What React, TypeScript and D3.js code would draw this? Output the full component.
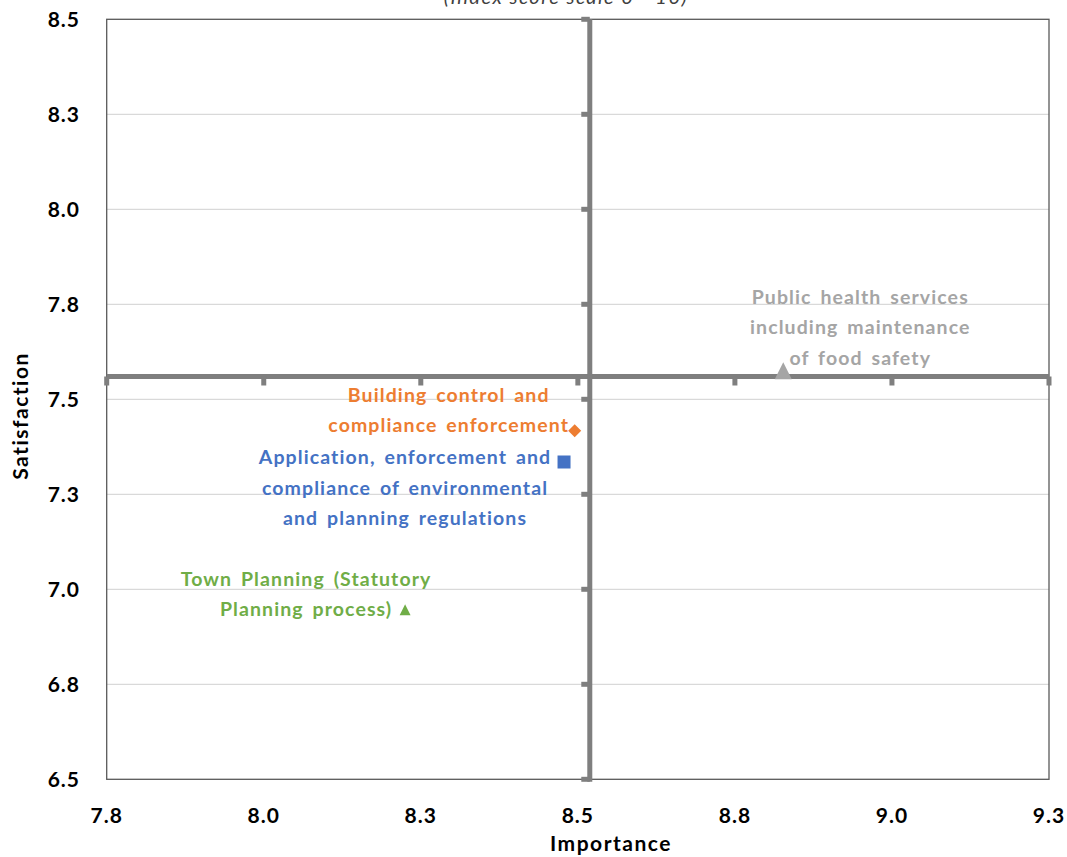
import React from "react";
import * as d3 from "d3";

const services = [
  "Public health services including maintenance of food safety",
  "Building control and compliance enforcement",
  "Application, enforcement and compliance of environmental and planning regulations",
  "Town Planning (Statutory Planning process)",
];
const importance = [8.827, 8.495, 8.478, 8.225];
const satisfaction = [7.575, 7.417, 7.335, 6.946];
const labelLines = [
  ["Public health services", "including maintenance", "of food safety"],
  ["Building control and", "compliance enforcement"],
  ["Application, enforcement and", "compliance of environmental", "and planning regulations"],
  ["Town Planning (Statutory", "Planning process)"],
];
const colors = ["#A5A5A5", "#ED7D31", "#4472C4", "#70AD47"];
const markerShapes = ["triangle", "diamond", "square", "triangle"];
const markerSizes = [17, 13, 13, 11];
// label anchor offsets relative to point (center x offset, first-line y offset)
const labelOffsets: [number, number][] = [
  [77, -74],
  [-126, -36],
  [-159, -5],
  [-99, -31],
];

const xTicks = [7.75, 8.0, 8.25, 8.5, 8.75, 9.0, 9.25];
const xTickLabels = ["7.8", "8.0", "8.3", "8.5", "8.8", "9.0", "9.3"];
const yTicks = [6.5, 6.75, 7.0, 7.25, 7.5, 7.75, 8.0, 8.25, 8.5];
const yTickLabels = ["6.5", "6.8", "7.0", "7.3", "7.5", "7.8", "8.0", "8.3", "8.5"];
const xCross = 8.519; // vertical axis position (importance)
const yCross = 7.56; // horizontal axis position (satisfaction)

const W = 1067;
const H = 857;
const plot = { left: 106.7, right: 1049, top: 19.3, bottom: 779.3 };
const FONT = "Lato, 'Open Sans', sans-serif";

function Marker({ shape, size, color, x, y }: any) {
  if (shape === "square") {
    return <rect x={x - size / 2} y={y - size / 2} width={size} height={size} fill={color} />;
  }
  if (shape === "diamond") {
    const s = size / 2;
    return <path d={`M${x},${y - s}L${x + s},${y}L${x},${y + s}L${x - s},${y}Z`} fill={color} />;
  }
  const h = size;
  const w = size;
  return (
    <path
      d={`M${x},${y - h / 2}L${x + w / 2},${y + h / 2}L${x - w / 2},${y + h / 2}Z`}
      fill={color}
    />
  );
}

export default function App() {
  const x = d3.scaleLinear().domain([7.75, 9.25]).range([plot.left, plot.right]);
  const y = d3.scaleLinear().domain([6.5, 8.5]).range([plot.bottom, plot.top]);
  const cx = x(xCross);
  const cy = y(yCross);
  const axisColor = "#7F7F7F";

  return (
    <svg
      width={W}
      height={H}
      style={{ position: "absolute", left: 0, top: 0, background: "#fff" }}
      fontFamily={FONT}
    >
      {/* title (partly cut, as in the source) */}
      <text x={566} y={4} textAnchor="middle" fontStyle="italic" fontSize={20} letterSpacing={1.5} fill="#404040">
        (Index score scale 0 - 10)
      </text>

      {/* gridlines */}
      {yTicks.slice(1, -1).map((t) => (
        <line key={t} x1={plot.left} x2={plot.right} y1={y(t)} y2={y(t)} stroke="#D9D9D9" strokeWidth={1.2} />
      ))}

      {/* plot border */}
      <rect
        x={plot.left}
        y={plot.top}
        width={plot.right - plot.left}
        height={plot.bottom - plot.top}
        fill="none"
        stroke="#595959"
        strokeWidth={1.3}
      />

      {/* horizontal axis (crossing) */}
      <line x1={plot.left} x2={plot.right} y1={cy} y2={cy} stroke={axisColor} strokeWidth={5} />
      {xTicks.map((t) => (
        <line key={t} x1={x(t)} x2={x(t)} y1={cy} y2={cy + 9} stroke={axisColor} strokeWidth={5} />
      ))}
      {/* vertical axis (crossing) */}
      <line x1={cx} x2={cx} y1={plot.top} y2={plot.bottom + 2.5} stroke={axisColor} strokeWidth={5} />
      {yTicks.map((t) => (
        <line key={t} x1={cx - 8.5} x2={cx} y1={y(t)} y2={y(t)} stroke={axisColor} strokeWidth={5} />
      ))}

      {/* tick labels */}
      {yTicks.map((t, i) => (
        <text key={t} x={80} y={y(t)} dy="0.36em" textAnchor="end" fontWeight="bold" fontSize={21} letterSpacing={1} fill="#000">
          {yTickLabels[i]}
        </text>
      ))}
      {xTicks.map((t, i) => (
        <text key={t} x={x(t)} y={823} textAnchor="middle" fontWeight="bold" fontSize={21} letterSpacing={1} fill="#000">
          {xTickLabels[i]}
        </text>
      ))}

      {/* axis titles */}
      <text x={611} y={851} textAnchor="middle" fontWeight="bold" fontSize={21} letterSpacing={1.5} fill="#000">
        Importance
      </text>
      <text
        transform={`translate(28,416) rotate(-90)`}
        textAnchor="middle"
        fontWeight="bold"
        fontSize={21}
        letterSpacing={1.5}
        fill="#000"
      >
        Satisfaction
      </text>

      {/* points and labels */}
      {services.map((s, i) => {
        const px = x(importance[i]);
        const py = y(satisfaction[i]);
        const [ox, oy] = labelOffsets[i];
        return (
          <g key={s}>
            <Marker shape={markerShapes[i]} size={markerSizes[i]} color={colors[i]} x={px} y={py} />
            {labelLines[i].map((line, j) => (
              <text
                key={j}
                x={px + ox}
                y={py + oy + j * 30.5}
                dy="0.36em"
                textAnchor="middle"
                fontWeight="bold"
                fontSize={19.5}
                letterSpacing={1.1}
                wordSpacing={3}
                fill={colors[i]}
              >
                {line}
              </text>
            ))}
          </g>
        );
      })}
    </svg>
  );
}
